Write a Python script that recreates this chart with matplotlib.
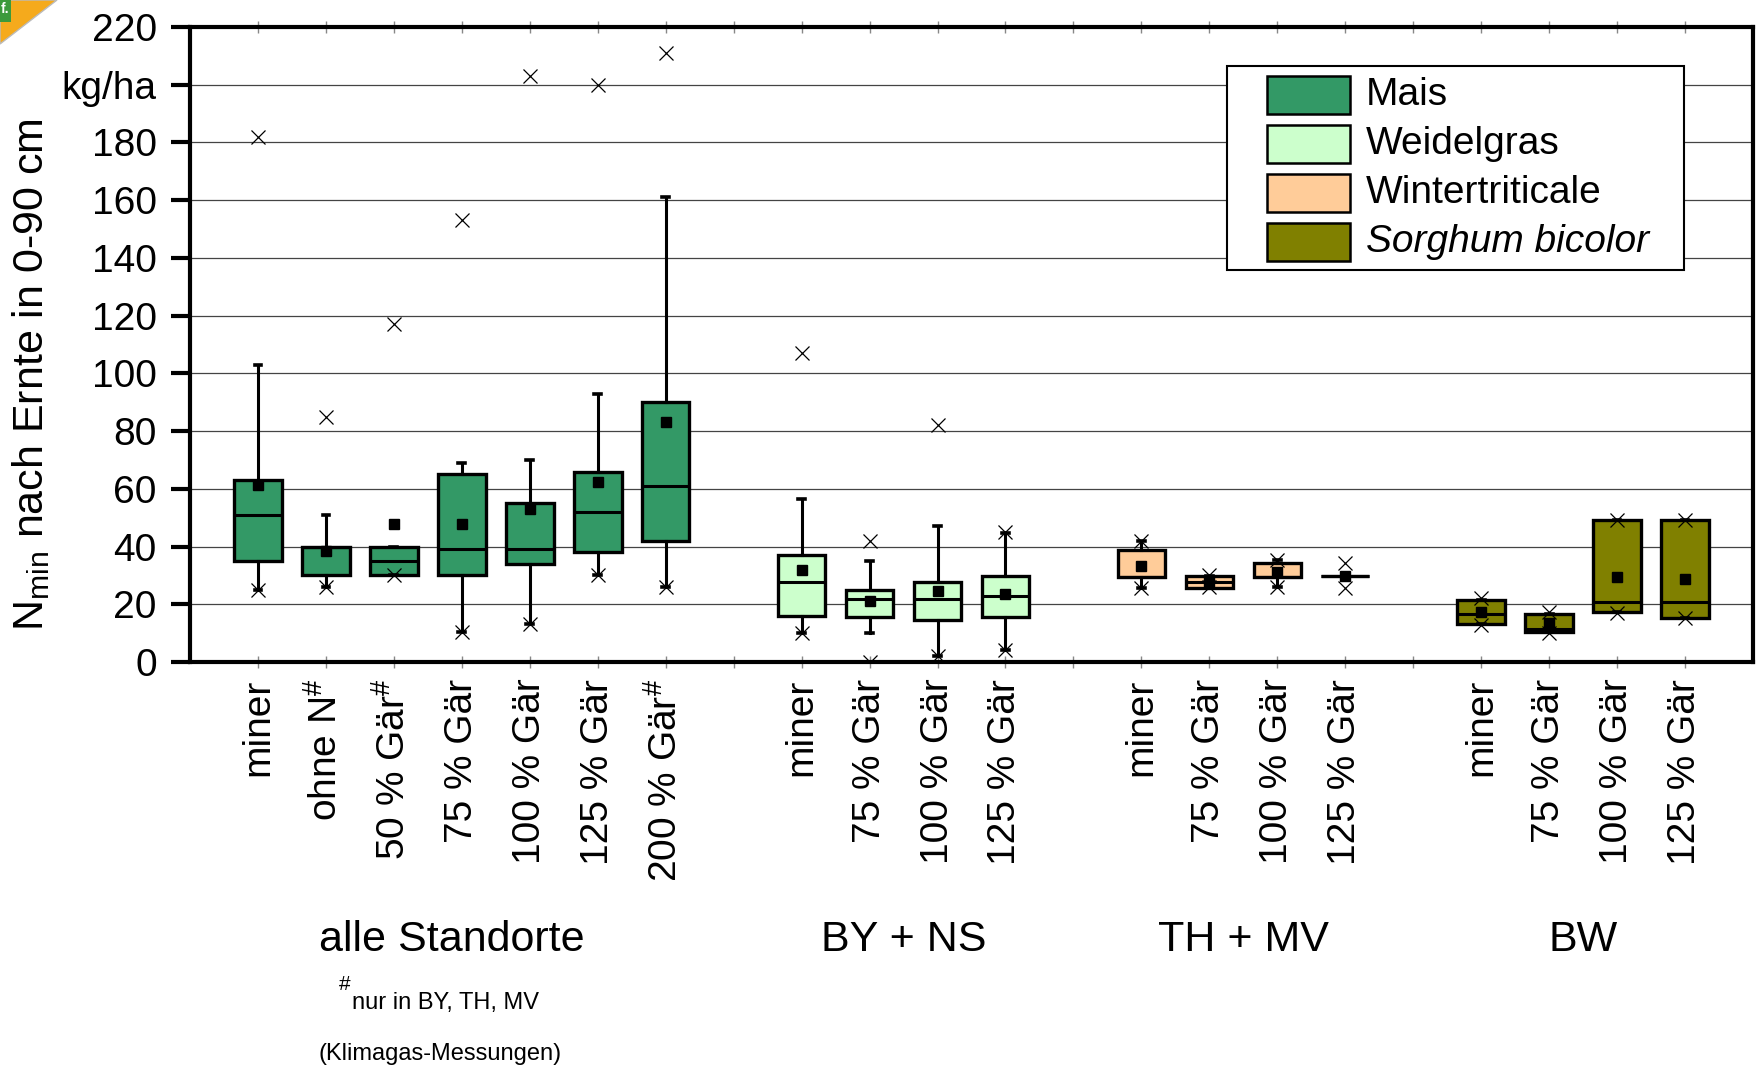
import matplotlib
matplotlib.use('Agg')
import matplotlib.pyplot as plt
import matplotlib.transforms as mtransforms
from matplotlib.patches import Rectangle, Polygon

plt.rcParams['font.family'] = ['Liberation Sans', 'DejaVu Sans']
plt.rcParams['mathtext.fontset'] = 'custom'
plt.rcParams['mathtext.rm'] = 'Liberation Sans'
plt.rcParams['mathtext.it'] = 'Liberation Sans:italic'
plt.rcParams['mathtext.bf'] = 'Liberation Sans:bold'

# ---------------- data ----------------
group_names = ["alle Standorte", "BY + NS", "TH + MV", "BW"]
group_sizes = [7, 4, 4, 4]
tick_labels = ["miner", "ohne N$^{\\#}$", "50 % Gär$^{\\#}$", "75 % Gär", "100 % Gär",
               "125 % Gär", "200 % Gär$^{\\#}$",
               "miner", "75 % Gär", "100 % Gär", "125 % Gär",
               "miner", "75 % Gär", "100 % Gär", "125 % Gär",
               "miner", "75 % Gär", "100 % Gär", "125 % Gär"]
crops = ["Mais"] * 7 + ["Weidelgras"] * 4 + ["Wintertriticale"] * 4 + ["Sorghum bicolor"] * 4
q1 = [35, 30, 30, 30, 34, 38, 42,
      16, 15.7, 14.7, 15.7,
      29.6, 25.8, 29.6, 29.7,
      13, 10.4, 17.2, 15.4]
median = [51, 40, 35, 39, 39, 52, 61,
          27.7, 21.8, 22, 23,
          29.6, 27.8, 29.6, 29.7,
          16.6, 11.4, 20.7, 20.7]
q3 = [63, 40, 40, 65, 55, 66, 90,
      37, 24.8, 27.7, 29.7,
      38.8, 29.8, 34.2, 29.7,
      21.6, 16.7, 49.3, 49.3]
whisker_low = [25, 26, 30, 10.5, 13, 30, 26,
               10, 10, 2, 4,
               25.5, 25.8, 25.9, 29.7,
               13, 10.4, 17.2, 15.4]
whisker_high = [103, 51, 40, 69, 70, 93, 161,
                56.6, 35, 47, 44.6,
                41.9, 29.8, 35.3, 29.7,
                21.6, 16.7, 49.3, 49.3]
mean = [61.2, 38.6, 47.8, 47.8, 52.9, 62.5, 83.3,
        31.9, 21.1, 24.7, 23.5,
        33.3, 27.8, 31.3, 29.7,
        17.2, 13.4, 29.3, 28.7]
extremes = [[25, 182], [26, 85], [30, 117], [10.5, 153], [13, 203], [30, 200], [26, 211],
            [10, 107], [0, 42], [2, 82], [4, 45],
            [25.5, 41.9], [26, 30], [25.9, 35.3], [25.5, 34.2],
            [12.8, 22.1], [9.9, 17.2], [17, 49.3], [15.1, 49.3]]
legend_names = ["Mais", "Weidelgras", "Wintertriticale", "Sorghum bicolor"]
y_ticks = [0, 20, 40, 60, 80, 100, 120, 140, 160, 180, 200, 220]
y_tick_labels = ["0", "20", "40", "60", "80", "100", "120", "140", "160", "180", "kg/ha", "220"]

colors = {"Mais": "#339966", "Weidelgras": "#CCFFCC",
          "Wintertriticale": "#FFCC99", "Sorghum bicolor": "#808000"}

# ---------------- layout ----------------
W, H = 1759, 1068
fig = plt.figure(figsize=(W / 100, H / 100), dpi=100)
ax = fig.add_axes([190 / W, 1 - 662 / H, (1753 - 190) / W, (662 - 27) / H])

positions = []
gaps = []
k = 1
for gs in group_sizes:
    for i in range(gs):
        positions.append(k)
        k += 1
    gaps.append(k)
    k += 1
gaps = gaps[:-1]

stats = []
for i in range(len(tick_labels)):
    stats.append(dict(q1=q1[i], med=median[i], q3=q3[i], whislo=whisker_low[i],
                      whishi=whisker_high[i], mean=mean[i], fliers=extremes[i]))

bp = ax.bxp(stats, positions=positions, widths=0.7, patch_artist=True,
            showmeans=True, meanline=False, showfliers=True, manage_ticks=False,
            capwidths=0.1,
            boxprops=dict(linewidth=2.4, edgecolor='black'),
            medianprops=dict(color='black', linewidth=2.2),
            whiskerprops=dict(color='black', linewidth=2.2),
            capprops=dict(color='black', linewidth=2.6),
            meanprops=dict(marker='s', markerfacecolor='black', markeredgecolor='black',
                           markersize=7.3),
            flierprops=dict(marker='x', markeredgecolor='black', markersize=9.5,
                            markeredgewidth=0.9, linestyle='none'))
for patch, c in zip(bp['boxes'], crops):
    patch.set_facecolor(colors[c])
    patch.set_zorder(2)
for key in ['whiskers', 'caps', 'medians']:
    for ln in bp[key]:
        ln.set_zorder(3)
for key in ['means', 'fliers']:
    for ln in bp[key]:
        ln.set_zorder(4)

ax.set_xlim(0, positions[-1] + 1)
ax.set_ylim(0, 220)
ax.set_axisbelow(True)
ax.yaxis.grid(True, color='#444444', linewidth=0.9)

ax.set_yticks(y_ticks)
ax.set_yticklabels(y_tick_labels)
ax.tick_params(axis='y', direction='out', length=14, width=3, pad=10, labelsize=28)

ax.set_xticks(positions)
ax.set_xticklabels(tick_labels, rotation=90, fontsize=28, va='top', ha='center')
ax.set_xticks(gaps, minor=True)
ax.tick_params(axis='x', which='both', direction='inout', length=8, width=1,
               color='#888888', pad=8, top=True)

for s in ax.spines.values():
    s.set_linewidth(3)
    s.set_color('black')

# y-label
fig.text(31 / W, 1 - 375 / H, "N$_{\\mathrm{min}}$ nach Ernte in 0-90 cm",
         rotation=90, ha='center', va='center', fontsize=31)

# group labels
trans = mtransforms.blended_transform_factory(ax.transData, fig.transFigure)
start = 0
for name, gs in zip(group_names, group_sizes):
    pos = positions[start:start + gs]
    start += gs
    ax.text(sum(pos) / len(pos) - (0.15 if gs == 7 else 0), 1 - 940 / H, name,
            transform=trans, ha='center', va='center', fontsize=31)

# footnotes
fig.text(339 / W, 1 - 984 / H, "#", ha='left', va='center', fontsize=15)
fig.text(352 / W, 1 - 1009 / H, "nur in BY, TH, MV", ha='left', va='baseline', fontsize=17)
fig.text(318 / W, 1 - 1054 / H, "(Klimagas-Messungen)", ha='left', va='center', fontsize=17)

# legend (manual)
def fx(x):
    return x / W

def fy(y):
    return 1 - y / H

frame = Rectangle((fx(1227), fy(270)), fx(1684) - fx(1227), fy(65.7) - fy(270),
                  transform=fig.transFigure, facecolor='white', edgecolor='black',
                  linewidth=1.5, zorder=10)
fig.add_artist(frame)
for i, name in enumerate(legend_names):
    yc = 95 + 49 * i
    r = Rectangle((fx(1267), fy(yc + 19)), fx(1350) - fx(1267), fy(yc - 19) - fy(yc + 19),
                  transform=fig.transFigure, facecolor=colors[name], edgecolor='black',
                  linewidth=1.8, zorder=11)
    fig.add_artist(r)
    fig.text(fx(1366), fy(yc), name, ha='left', va='center', fontsize=28,
             style='italic' if name == "Sorghum bicolor" else 'normal', zorder=12)

# corner logo fragment
fig.add_artist(Polygon([(0, 1), (fx(57), 1), (0, fy(44))], closed=True,
                       transform=fig.transFigure, facecolor='#F5AA1C',
                       edgecolor='#BBBBBB', linewidth=1, zorder=20))
fig.add_artist(Rectangle((0, fy(22)), fx(11), fy(0) - fy(22), transform=fig.transFigure,
                         facecolor='#3C9A3C', edgecolor='none', zorder=21))
fig.text(fx(1), fy(9), "f.", fontsize=10, color='white', fontweight='bold',
         ha='left', va='center', zorder=22)

fig.savefig('out.png', dpi=100)
